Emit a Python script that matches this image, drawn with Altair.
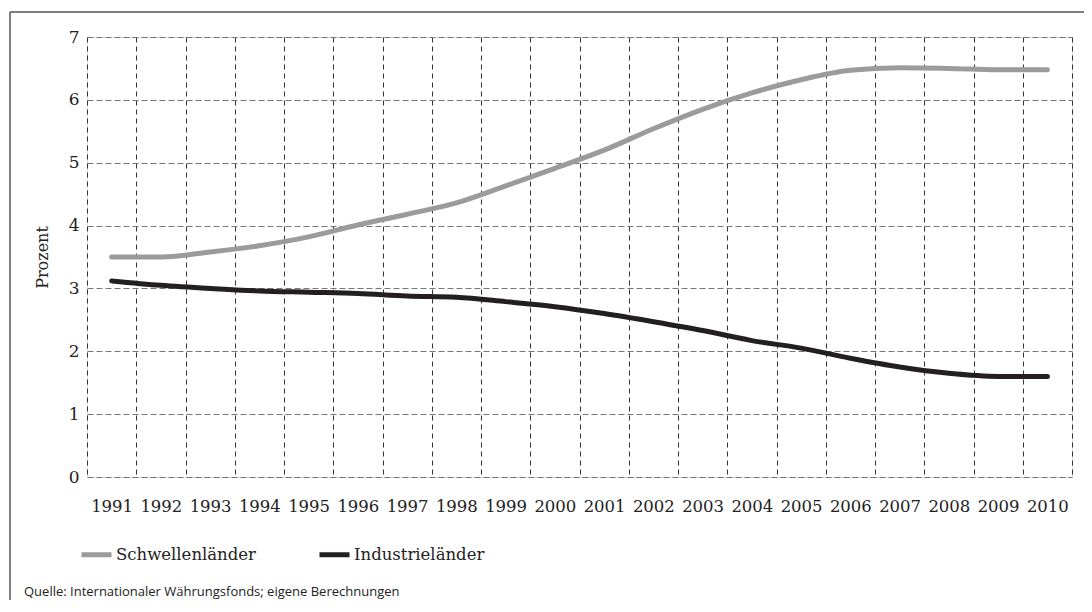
import altair as alt
import pandas as pd

years = [str(y) for y in range(1991, 2011)]
schwellen = [3.50, 3.50, 3.58, 3.68, 3.82, 4.01, 4.18, 4.36, 4.63, 4.91,
             5.20, 5.54, 5.85, 6.11, 6.32, 6.47, 6.51, 6.50, 6.48, 6.48]
industrie = [3.12, 3.05, 3.00, 2.96, 2.94, 2.92, 2.88, 2.86, 2.79, 2.71,
             2.60, 2.47, 2.33, 2.17, 2.05, 1.89, 1.75, 1.65, 1.60, 1.60]
series_names = ["Schwellenländer", "Industrieländer"]
series_colors = ["#9b9b9b", "#231f20"]
source_text = "Quelle: Internationaler Währungsfonds; eigene Berechnungen"

rows = []
for i, y in enumerate(years):
    rows.append({"Jahr": y, "Serie": series_names[0], "Wert": schwellen[i]})
    rows.append({"Jahr": y, "Serie": series_names[1], "Wert": industrie[i]})
df = pd.DataFrame(rows)

SERIF = "DejaVu Serif"

xscale = alt.Scale(type="band", paddingInner=0, paddingOuter=0)

vgrid = alt.Chart(df).mark_line(opacity=0).encode(
    x=alt.X("Jahr:O", sort=years, scale=xscale,
            axis=alt.Axis(title=None, tickBand="extent", grid=True,
                          gridColor="#333333", gridDash=[5, 4], gridWidth=1,
                          ticks=False, domain=False, labelAngle=0,
                          labelFont=SERIF, labelFontSize=16.5, labelColor="#222222",
                          labelPadding=21)),
)

lines = alt.Chart(df).mark_line(strokeWidth=5, interpolate="monotone", strokeCap="round").encode(
    x=alt.X("Jahr:O", sort=years, scale=xscale),
    y=alt.Y("Wert:Q", scale=alt.Scale(domain=[0, 7], nice=False),
            axis=alt.Axis(title="Prozent", values=list(range(0, 8)), grid=True,
                          gridColor="#777777", gridDash=[6, 3], gridWidth=1,
                          ticks=False, domain=False,
                          labelFont=SERIF, labelFontSize=17, labelColor="#222222",
                          labelPadding=8, titleFont=SERIF, titleFontSize=16,
                          titleFontWeight="normal", titleColor="#222222",
                          titlePadding=18)),
    color=alt.Color("Serie:N", sort=series_names,
                    scale=alt.Scale(domain=series_names, range=series_colors),
                    legend=alt.Legend(title=None, orient="none", direction="horizontal",
                                      legendX=-8, legendY=500,
                                      symbolType="stroke", symbolSize=900,
                                      symbolStrokeWidth=5, labelFont=SERIF,
                                      labelFontSize=16.5, labelColor="#222222",
                                      labelOffset=2, columnPadding=53)),
    order=alt.Order("Serie:N"),
)

source = alt.Chart(alt.Data(values=[{"t": source_text}])).mark_text(
    align="left", baseline="bottom", font="Open Sans", fontSize=13,
    color="#222222"
).encode(x=alt.value(-63), y=alt.value(562), text="t:N")

frame_top = alt.Chart(alt.Data(values=[{"a": 1}])).mark_rule(
    stroke="#555555", strokeWidth=1.5
).encode(x=alt.value(-77), x2=alt.value(1100), y=alt.value(-25))

frame_left = alt.Chart(alt.Data(values=[{"a": 1}])).mark_rule(
    stroke="#555555", strokeWidth=1.5
).encode(x=alt.value(-77), y=alt.value(-25), y2=alt.value(700))

chart = alt.layer(frame_top, frame_left, vgrid, lines, source).properties(
    width=985, height=440,
    autosize=alt.AutoSizeParams(type="none"),
    padding={"left": 79, "top": 29, "right": 12, "bottom": 123},
).configure_view(stroke="#222222", strokeWidth=2).configure(background="white")

chart.save("out.html", embed_options={"renderer": "svg", "actions": False})
